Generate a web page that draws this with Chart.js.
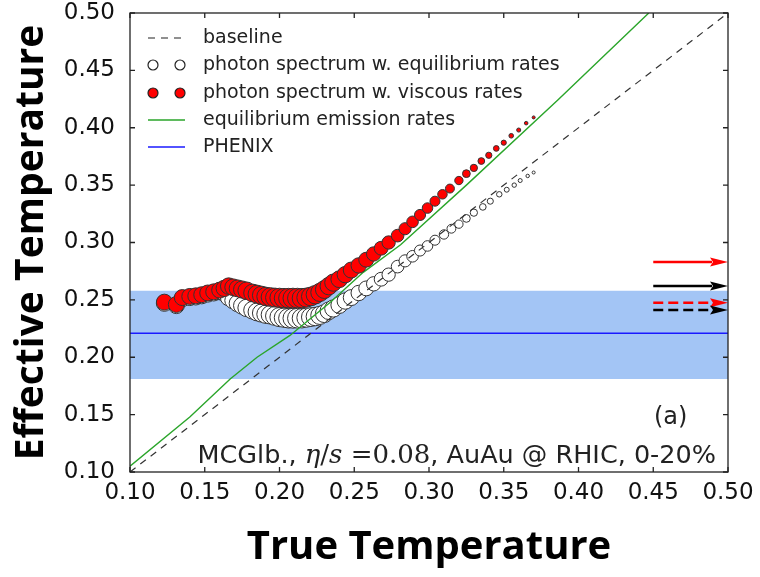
<!DOCTYPE html>
<html>
<head>
<meta charset="utf-8">
<script src="https://cdn.jsdelivr.net/npm/chart.js@4.4.0/dist/chart.umd.min.js"></script>
<style>
  html, body { margin: 0; padding: 0; background: #fff; }
  #wrap { width: 760px; height: 577px; }
</style>
</head>
<body>
<div id="wrap"><canvas id="tempChart" width="760" height="577"></canvas></div>
<script>
// Ejes
const xTicks = [0.10, 0.15, 0.20, 0.25, 0.30, 0.35, 0.40, 0.45, 0.50];
const yTicks = [0.10, 0.15, 0.20, 0.25, 0.30, 0.35, 0.40, 0.45, 0.50];

// baseline (Teff = T)
const baselineX = [0.10, 0.50];
const baselineY = [0.10, 0.50];

// equilibrium emission rates (green line)
const eqRateX = [0.100, 0.140, 0.167, 0.185, 0.207, 0.234, 0.256, 0.281, 0.325, 0.386, 0.447];
const eqRateY = [0.105, 0.148, 0.181, 0.200, 0.219, 0.248, 0.274, 0.298, 0.350, 0.424, 0.500];

// photon spectrum w. viscous rates (red dots)
const viscX = [0.123, 0.131, 0.135, 0.140, 0.144, 0.148, 0.152, 0.156, 0.160, 0.163, 0.166, 0.169,
  0.172, 0.175, 0.178, 0.182, 0.185, 0.188, 0.191, 0.194, 0.197, 0.200, 0.203, 0.206, 0.209, 0.212,
  0.215, 0.218, 0.221, 0.224, 0.227, 0.230, 0.233, 0.236, 0.240, 0.244, 0.248, 0.253, 0.258,
  0.263, 0.268, 0.273, 0.279, 0.284, 0.289, 0.294, 0.299, 0.304, 0.309, 0.314, 0.320, 0.325, 0.330,
  0.335, 0.340, 0.345, 0.350, 0.355, 0.360, 0.365, 0.370];
const viscY = [0.248, 0.246, 0.252, 0.253, 0.2535, 0.2545, 0.256, 0.257, 0.2585, 0.260, 0.262, 0.261,
  0.260, 0.259, 0.258, 0.256, 0.255, 0.254, 0.253, 0.2525, 0.252, 0.2518, 0.2515, 0.2515, 0.2515, 0.2515,
  0.2515, 0.252, 0.253, 0.2545, 0.2565, 0.259, 0.262, 0.265, 0.268, 0.272, 0.276, 0.280, 0.285,
  0.290, 0.295, 0.300, 0.306, 0.312, 0.318, 0.324, 0.330, 0.336, 0.342, 0.347, 0.354, 0.360, 0.365,
  0.371, 0.376, 0.382, 0.387, 0.393, 0.398, 0.404, 0.409];

// photon spectrum w. equilibrium rates (white circles)
const eqSpecX = [0.123, 0.131, 0.135, 0.140, 0.144, 0.148, 0.152, 0.156, 0.160, 0.163, 0.166, 0.169,
  0.172, 0.175, 0.178, 0.182, 0.185, 0.188, 0.191, 0.194, 0.197, 0.200, 0.203, 0.206, 0.209, 0.212,
  0.215, 0.218, 0.221, 0.224, 0.227, 0.230, 0.233, 0.236, 0.240, 0.244, 0.248, 0.253, 0.258,
  0.263, 0.268, 0.273, 0.279, 0.284, 0.289, 0.294, 0.299, 0.304, 0.310, 0.315, 0.320, 0.325, 0.330,
  0.336, 0.341, 0.347, 0.352, 0.357, 0.361, 0.366, 0.370];
const eqSpecY = [0.247, 0.245, 0.251, 0.252, 0.2525, 0.2535, 0.255, 0.256, 0.257, 0.256, 0.252, 0.2495,
  0.247, 0.245, 0.243, 0.241, 0.2395, 0.2385, 0.2375, 0.237, 0.236, 0.235, 0.2345, 0.234, 0.234, 0.234,
  0.234, 0.2345, 0.235, 0.2355, 0.2365, 0.238, 0.2405, 0.2425, 0.2455, 0.249, 0.252, 0.256, 0.260,
  0.264, 0.268, 0.272, 0.279, 0.284, 0.288, 0.293, 0.297, 0.302, 0.307, 0.312, 0.316, 0.321, 0.326,
  0.331, 0.336, 0.342, 0.346, 0.350, 0.354, 0.358, 0.361];

// PHENIX: central value and band
const phenixX = [0.10, 0.50];
const phenixY = [0.221, 0.221];
const phenixLow = 0.181;
const phenixHigh = [0.258, 0.258];

// arrows on the right (late-time values)
const arrowY = [0.283, 0.262, 0.2475, 0.2412];
const arrowFromX = 0.45;
const arrowToX = 0.50;
const arrowColors = ['#ff0000', '#000000', '#ff0000', '#000000'];
const arrowDashed = [false, false, true, true];

const pts = (xs, ys) => xs.map((x, i) => ({x: x, y: ys[i]}));

// tamaño del marcador según T
function markerRadius(ctx) {
  const x = ctx.raw ? ctx.raw.x : 0.2;
  if (x <= 0.16) return 8;
  if (x <= 0.21) return 8 + (x - 0.16) * 40;
  return Math.max(1.3, 10 - (x - 0.21) * 53);
}

const tickFont = {family: 'DejaVu Sans', size: 23, lineHeight: 1.1};

// ticks hacia adentro, marco, flechas, leyenda y textos
const decorPlugin = {
  id: 'decor',
  afterDatasetsDraw(chart) {
    const {ctx, chartArea: a, scales: {x, y}} = chart;
    ctx.save();
    ctx.beginPath();
    ctx.rect(a.left, a.top, a.right - a.left, a.bottom - a.top);
    ctx.clip();
    arrowY.forEach((v, i) => {
      const x0 = x.getPixelForValue(arrowFromX);
      const x1 = x.getPixelForValue(arrowToX);
      const py = y.getPixelForValue(v);
      const head = 18, half = 4.5;
      ctx.strokeStyle = arrowColors[i];
      ctx.fillStyle = arrowColors[i];
      ctx.lineWidth = 2.5;
      ctx.setLineDash(arrowDashed[i] ? [10, 5] : []);
      ctx.beginPath();
      ctx.moveTo(x0, py);
      ctx.lineTo(x1 - head + 2, py);
      ctx.stroke();
      ctx.setLineDash([]);
      ctx.beginPath();
      ctx.moveTo(x1, py);
      ctx.lineTo(x1 - head, py - half);
      ctx.lineTo(x1 - head + 3, py);
      ctx.lineTo(x1 - head, py + half);
      ctx.closePath();
      ctx.fill();
    });
    ctx.restore();
  },
  afterDraw(chart) {
    const {ctx, chartArea: a, scales: {x, y}} = chart;
    ctx.save();
    ctx.strokeStyle = '#222';
    ctx.lineWidth = 1.3;
    ctx.strokeRect(a.left, a.top, a.right - a.left, a.bottom - a.top);
    ctx.beginPath();
    const tl = 5;
    xTicks.forEach(v => {
      const px = x.getPixelForValue(v);
      ctx.moveTo(px, a.bottom); ctx.lineTo(px, a.bottom - tl);
      ctx.moveTo(px, a.top); ctx.lineTo(px, a.top + tl);
    });
    yTicks.forEach(v => {
      const py = y.getPixelForValue(v);
      ctx.moveTo(a.left, py); ctx.lineTo(a.left + tl, py);
      ctx.moveTo(a.right, py); ctx.lineTo(a.right - tl, py);
    });
    ctx.stroke();

    // Leyenda
    const lx = a.left + 23, lx2 = a.left + 50, tx = a.left + 73;
    const rows = [a.top + 25, a.top + 52, a.top + 80, a.top + 107, a.top + 134];
    ctx.font = '19px "DejaVu Sans"';
    ctx.textBaseline = 'middle';
    ctx.fillStyle = '#222';
    const labels = ['baseline', 'photon spectrum w. equilibrium rates', 'photon spectrum w. viscous rates',
      'equilibrium emission rates', 'PHENIX'];
    labels.forEach((t, i) => ctx.fillText(t, tx, rows[i]));
    // baseline
    ctx.strokeStyle = '#222';
    ctx.lineWidth = 1.2;
    ctx.setLineDash([7, 6]);
    ctx.beginPath(); ctx.moveTo(lx - 5, rows[0]); ctx.lineTo(lx2 + 5, rows[0]); ctx.stroke();
    ctx.setLineDash([]);
    // markers
    [[rows[1], '#ffffff'], [rows[2], '#ff0000']].forEach(([ry, col]) => {
      [lx, lx2].forEach(mx => {
        ctx.beginPath();
        ctx.arc(mx, ry, 5, 0, Math.PI * 2);
        ctx.fillStyle = col; ctx.fill();
        ctx.strokeStyle = '#222'; ctx.lineWidth = 1.2; ctx.stroke();
      });
    });
    ctx.lineWidth = 1.4;
    ctx.strokeStyle = '#2aa52a';
    ctx.beginPath(); ctx.moveTo(lx - 5, rows[3]); ctx.lineTo(lx2 + 5, rows[3]); ctx.stroke();
    ctx.strokeStyle = '#1a1aff';
    ctx.beginPath(); ctx.moveTo(lx - 5, rows[4]); ctx.lineTo(lx2 + 5, rows[4]); ctx.stroke();

    // (a)
    ctx.fillStyle = '#222';
    ctx.font = '24px "DejaVu Sans"';
    ctx.textBaseline = 'alphabetic';
    ctx.textAlign = 'left';
    ctx.fillText('(a)', a.right - 74, a.bottom - 48);

    // Texto inferior con fórmula
    const parts = [
      ['MCGlb., ', '25.5px "DejaVu Sans"'],
      ['\u03B7', 'italic 26px "DejaVu Serif"'],
      ['/', '26px "DejaVu Serif"'],
      ['s', 'italic 26px "DejaVu Serif"'],
      [' =', '26px "DejaVu Serif"'],
      ['0.08', '26px "DejaVu Serif"'],
      [', AuAu @ RHIC, 0-20%', '25.5px "DejaVu Sans"']
    ];
    let total = 0;
    parts.forEach(p => { ctx.font = p[1]; total += ctx.measureText(p[0]).width; });
    let cx = a.right - 12 - total;
    parts.forEach(p => {
      ctx.font = p[1];
      ctx.fillText(p[0], cx, a.bottom - 9);
      cx += ctx.measureText(p[0]).width;
    });
    ctx.restore();
  }
};

const ctx = document.getElementById('tempChart').getContext('2d');
new Chart(ctx, {
  type: 'line',
  data: {
    datasets: [
      {
        label: 'photon spectrum w. viscous rates',
        data: pts(viscX, viscY),
        showLine: false,
        pointRadius: markerRadius,
        pointBackgroundColor: '#ff0000',
        pointBorderColor: '#333',
        pointBorderWidth: 1,
        order: 0
      },
      {
        label: 'equilibrium emission rates',
        data: pts(eqRateX, eqRateY),
        borderColor: '#2aa52a',
        borderWidth: 1.4,
        pointRadius: 0,
        tension: 0,
        order: 1
      },
      {
        label: 'baseline',
        data: pts(baselineX, baselineY),
        borderColor: '#333',
        borderWidth: 1.2,
        borderDash: [7, 6],
        pointRadius: 0,
        order: 2
      },
      {
        label: 'photon spectrum w. equilibrium rates',
        data: pts(eqSpecX, eqSpecY),
        showLine: false,
        pointRadius: markerRadius,
        pointBackgroundColor: '#ffffff',
        pointBorderColor: '#333',
        pointBorderWidth: 1,
        order: 3
      },
      {
        label: 'PHENIX',
        data: pts(phenixX, phenixY),
        borderColor: '#1a1aff',
        borderWidth: 1.5,
        pointRadius: 0,
        order: 4
      },
      {
        label: 'PHENIX band',
        data: pts(phenixX, phenixHigh),
        borderWidth: 0,
        borderColor: 'rgba(0,0,0,0)',
        backgroundColor: '#a3c5f5',
        fill: {value: phenixLow},
        pointRadius: 0,
        order: 5
      }
    ]
  },
  options: {
    responsive: false,
    animation: false,
    events: [],
    layout: {padding: {left: 0, top: 13, right: 32, bottom: 0}},
    plugins: {
      legend: {display: false},
      tooltip: {enabled: false}
    },
    scales: {
      x: {
        type: 'linear',
        min: 0.10,
        max: 0.50,
        grid: {display: false},
        border: {display: false},
        afterBuildTicks: s => { s.ticks = xTicks.map(v => ({value: v})); },
        afterFit: s => { s.height = 105; s.paddingLeft = 0; s.paddingRight = 0; },
        ticks: {
          autoSkip: false,
          maxRotation: 0,
          padding: 0,
          color: '#111',
          font: tickFont,
          callback: v => v.toFixed(2)
        },
        title: {
          display: true,
          text: 'True Temperature',
          color: '#000',
          font: {family: 'Open Sans', size: 40, weight: 'bold'},
          padding: {top: 0, bottom: 5}
        }
      },
      y: {
        type: 'linear',
        min: 0.10,
        max: 0.50,
        grid: {display: false},
        border: {display: false},
        afterBuildTicks: s => { s.ticks = yTicks.map(v => ({value: v})); },
        afterFit: s => { s.width = 130; s.paddingTop = 0; s.paddingBottom = 0; },
        ticks: {
          autoSkip: false,
          padding: 7,
          color: '#111',
          font: tickFont,
          callback: v => v.toFixed(2)
        },
        title: {
          display: true,
          text: 'Effective Temperature',
          color: '#000',
          font: {family: 'Open Sans', size: 39, weight: 'bold'},
          padding: {top: 8, bottom: 0}
        }
      }
    }
  },
  plugins: [decorPlugin]
});
</script>
</body>
</html>
